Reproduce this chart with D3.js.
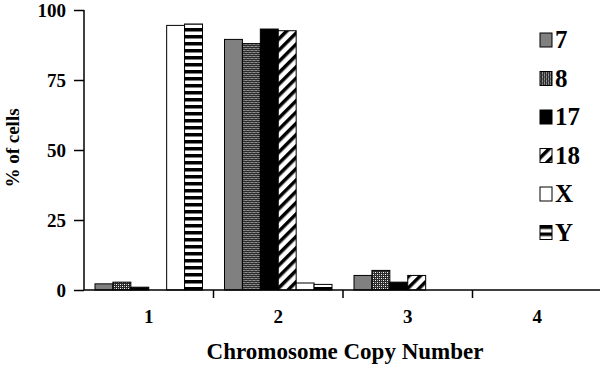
<!DOCTYPE html>
<html>
<head>
<style>
  body, html { margin: 0; padding: 0; background: #fff; }
  svg text { font-family: "Liberation Serif", "Times New Roman", serif; font-weight: bold; }
</style>
</head>
<body>
<svg id="svg" width="600" height="367"></svg>
<script src="https://cdn.jsdelivr.net/npm/d3@7"></script>
<script>
  // copy number categories and one array per chromosome
  const categories = ["1", "2", "3", "4"]
  const seriesNames = ["7", "8", "17", "18", "X", "Y"]
  const chr7 = [2.2, 89.5, 5.2, 0]
  const chr8 = [2.8, 88, 7, 0]
  const chr17 = [1, 93.2, 2.8, 0]
  const chr18 = [0, 92.6, 5.2, 0]
  const chrX = [94.5, 2.5, 0, 0]
  const chrY = [95, 2, 0, 0]
  const yTicks = [0, 25, 50, 75, 100]

  const seriesValues = [chr7, chr8, chr17, chr18, chrX, chrY]
  const rows = categories.map((c, i) => ({
    cat: c,
    vals: seriesNames.map((s, j) => ({ key: s, value: seriesValues[j][i] }))
  }))

  const svg = d3.select('#svg')
  const defs = svg.append('defs')

  // dotted fill for chromosome 8
  const dots = defs.append('pattern').attr('id', 'p8')
    .attr('patternUnits', 'userSpaceOnUse').attr('width', 4).attr('height', 4)
  dots.append('rect').attr('width', 4).attr('height', 4).attr('fill', '#2a2a2a')
  dots.append('rect').attr('x', 0).attr('y', 0).attr('width', 1).attr('height', 1).attr('fill', '#fff')
  dots.append('rect').attr('x', 2).attr('y', 2).attr('width', 1).attr('height', 1).attr('fill', '#fff')
  dots.append('rect').attr('x', 2).attr('y', 0).attr('width', 1).attr('height', 1).attr('fill', '#aaa')
  dots.append('rect').attr('x', 0).attr('y', 2).attr('width', 1).attr('height', 1).attr('fill', '#aaa')

  // diagonal hatch for chromosome 18
  const hatch = defs.append('pattern').attr('id', 'p18')
    .attr('patternUnits', 'userSpaceOnUse').attr('width', 8).attr('height', 8)
    .attr('patternTransform', 'rotate(45)')
  hatch.append('rect').attr('width', 8).attr('height', 8).attr('fill', '#fff')
  hatch.append('rect').attr('width', 3.5).attr('height', 8).attr('fill', '#000')

  // horizontal stripes for Y
  const stripes = defs.append('pattern').attr('id', 'pY')
    .attr('patternUnits', 'userSpaceOnUse').attr('width', 7).attr('height', 7)
  stripes.append('rect').attr('width', 7).attr('height', 7).attr('fill', '#fff')
  stripes.append('rect').attr('width', 7).attr('height', 3.5).attr('fill', '#000')

  const fills = {
    "7": "#808080", "8": "url(#p8)", "17": "#000",
    "18": "url(#p18)", "X": "#fff", "Y": "url(#pY)"
  }

  const margin = { top: 10, right: 0, bottom: 77, left: 84 }
  const width = 602 - margin.left
  const height = 367 - margin.top - margin.bottom

  const x0 = d3.scaleBand()
    .domain(categories)
    .range([margin.left, margin.left + width])
    .padding(0)

  const x1 = d3.scaleBand()
    .domain(seriesNames)
    .range([11, x0.bandwidth() - 11])
    .padding(0)

  const yScale = d3.scaleLinear()
    .domain([0, 100])
    .range([margin.top + height, margin.top])

  svg.selectAll('.group')
    .data(rows)
    .enter().append('g')
    .attr('class', 'group')
    .attr('transform', d => `translate(${x0(d.cat)},0)`)
    .selectAll('rect')
    .data(d => d.vals.filter(v => v.value > 0))
    .enter().append('rect')
    .attr('x', d => x1(d.key))
    .attr('y', d => yScale(d.value))
    .attr('width', x1.bandwidth())
    .attr('height', d => yScale(0) - yScale(d.value))
    .attr('fill', d => fills[d.key])
    .attr('stroke', '#000')
    .attr('stroke-width', 1)

  // y axis
  const yAxis = svg.append('g')
    .attr('transform', `translate(${margin.left},0)`)
    .call(d3.axisLeft(yScale).tickValues(yTicks).tickSize(10).tickPadding(8))
  yAxis.selectAll('text').style('font-size', '19px').attr('fill', '#000')
  yAxis.selectAll('line, path').attr('stroke', '#000').attr('stroke-width', 1.5)
  yAxis.select('.domain').attr('d', `M0,${yScale(100)}V${yScale(0)}`)

  // x axis: line with ticks at the category boundaries
  const xAxis = svg.append('g')
    .attr('transform', `translate(0,${yScale(0)})`)
    .call(d3.axisBottom(x0).tickSize(0).tickPadding(20))
  xAxis.select('.domain').attr('d', `M${margin.left},0H600`).attr('stroke', '#000').attr('stroke-width', 1.5)
  xAxis.selectAll('text').style('font-size', '19px').attr('fill', '#000')

  svg.append('g')
    .selectAll('line')
    .data(categories.slice(1))
    .enter().append('line')
    .attr('x1', d => x0(d)).attr('x2', d => x0(d))
    .attr('y1', yScale(0)).attr('y2', yScale(0) + 8)
    .attr('stroke', '#000').attr('stroke-width', 1.5)

  // axis titles
  svg.append('text')
    .attr('x', 345)
    .attr('y', 359)
    .attr('text-anchor', 'middle')
    .style('font-size', '23px')
    .text('Chromosome Copy Number')

  svg.append('text')
    .attr('transform', 'translate(19,148) rotate(-90)')
    .attr('text-anchor', 'middle')
    .style('font-size', '19px')
    .text('% of cells')

  // legend
  const legend = svg.append('g')
    .attr('transform', 'translate(540,40)')

  const items = legend.selectAll('g')
    .data(seriesNames)
    .enter().append('g')
    .attr('transform', (d, i) => `translate(0,${i * 38.5})`)

  items.append('rect')
    .attr('x', 0).attr('y', -7)
    .attr('width', 12).attr('height', 14)
    .attr('fill', d => fills[d])
    .attr('stroke', '#000')
    .attr('stroke-width', 1)

  items.append('text')
    .attr('x', 15)
    .attr('y', 8)
    .style('font-size', '25px')
    .text(d => d)
</script>
</body>
</html>
